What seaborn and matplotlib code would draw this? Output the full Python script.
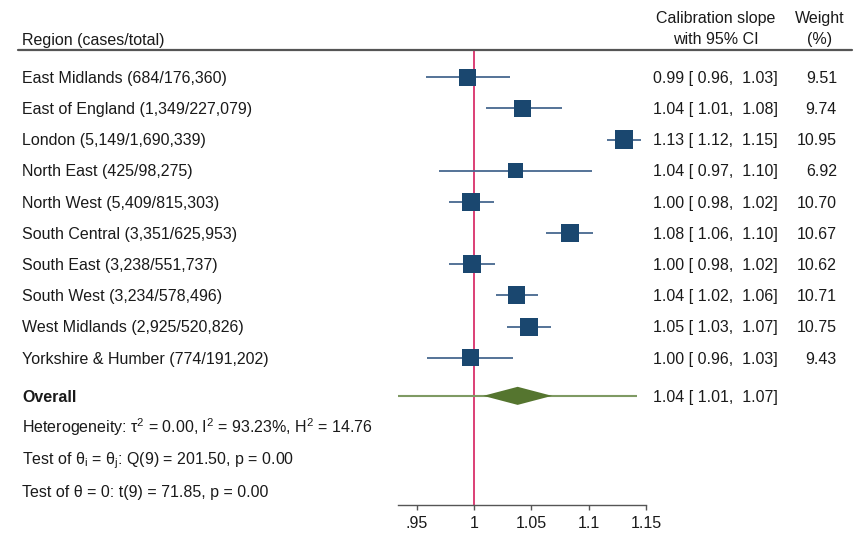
import numpy as np
import pandas as pd
import matplotlib
matplotlib.use("Agg")
import matplotlib.pyplot as plt
import matplotlib.transforms as mtransforms
from matplotlib.lines import Line2D
import seaborn as sns

# ---------------- data ----------------
regions = ["East Midlands (684/176,360)", "East of England (1,349/227,079)",
           "London (5,149/1,690,339)", "North East (425/98,275)",
           "North West (5,409/815,303)", "South Central (3,351/625,953)",
           "South East (3,238/551,737)", "South West (3,234/578,496)",
           "West Midlands (2,925/520,826)", "Yorkshire & Humber (774/191,202)"]
estimate = [0.994, 1.042, 1.131, 1.036, 0.997, 1.084, 0.998, 1.037, 1.048, 0.997]
ci_low = [0.958, 1.010, 1.116, 0.969, 0.978, 1.063, 0.978, 1.019, 1.029, 0.959]
ci_high = [1.031, 1.077, 1.146, 1.103, 1.017, 1.104, 1.018, 1.056, 1.067, 1.034]
weights = [9.51, 9.74, 10.95, 6.92, 10.70, 10.67, 10.62, 10.71, 10.75, 9.43]
est_labels = ["0.99 [ 0.96,  1.03]", "1.04 [ 1.01,  1.08]", "1.13 [ 1.12,  1.15]",
              "1.04 [ 0.97,  1.10]", "1.00 [ 0.98,  1.02]", "1.08 [ 1.06,  1.10]",
              "1.00 [ 0.98,  1.02]", "1.04 [ 1.02,  1.06]", "1.05 [ 1.03,  1.07]",
              "1.00 [ 0.96,  1.03]"]
weight_labels = ["9.51", "9.74", "10.95", "6.92", "10.70", "10.67", "10.62",
                 "10.71", "10.75", "9.43"]
overall_est = 1.038
overall_ci = [1.008, 1.068]
overall_pi = [0.934, 1.142]
overall_label = "1.04 [ 1.01,  1.07]"
stat_lines = [r"Heterogeneity: τ$^{\mathregular{2}}$ = 0.00, I$^{\mathregular{2}}$ = 93.23%, H$^{\mathregular{2}}$ = 14.76",
              r"Test of θ$_{\mathregular{i}}$ = θ$_{\mathregular{j}}$: Q(9) = 201.50, p = 0.00",
              r"Test of θ = 0: t(9) = 71.85, p = 0.00"]
xticks = [0.95, 1.0, 1.05, 1.10, 1.15]
xtick_labels = [".95", "1", "1.05", "1.1", "1.15"]

# ---------------- style ----------------
sns.set_theme(style="white")
plt.rcParams["font.family"] = ["Liberation Sans", "DejaVu Sans"]
plt.rcParams["mathtext.fontset"] = "custom"
plt.rcParams["mathtext.rm"] = "Liberation Sans"
plt.rcParams["mathtext.it"] = "Liberation Sans"

NAVY = "#1a476f"
CI_COL = "#46688f"
GREEN = "#55752f"
PI_COL = "#7f9a63"
RED = "#d9306a"
TXT = "#1a1a1a"
FS = 11.55

W, H = 856, 533
fig = plt.figure(figsize=(W / 100, H / 100), dpi=100)

# main plotting axes (pixel layout)
ax_left, ax_right = 398, 646
ax_top, ax_bot = 50, 505
ax = fig.add_axes([ax_left / W, 1 - ax_bot / H, (ax_right - ax_left) / W, (ax_bot - ax_top) / H])

rows = np.arange(len(regions), dtype=float)
overall_y = 10.22
stat_y = [11.22, 12.24, 13.27]

df = pd.DataFrame({"region": regions, "est": estimate, "lo": ci_low, "hi": ci_high,
                   "w": weights, "row": rows})

# no-effect line
ax.axvline(1.0, color=RED, lw=1.3, zorder=1)

# CI lines
ax.hlines(df["row"], df["lo"], df["hi"], color=CI_COL, lw=1.3, zorder=2)

# markers, area proportional to weight
sns.scatterplot(data=df, x="est", y="row", size="w",
                sizes={w: 15.5 * w for w in weights}, marker="s",
                color=NAVY, linewidth=0, legend=False, ax=ax, zorder=3)

# overall: prediction interval + diamond
ax.hlines(overall_y, overall_pi[0], overall_pi[1], color=PI_COL, lw=1.5, zorder=2)
dh = 0.29
ax.fill([overall_ci[0], overall_est, overall_ci[1], overall_est],
        [overall_y, overall_y - dh, overall_y, overall_y + dh],
        color=GREEN, lw=0, zorder=3)

ax.set_xlim(0.9336, 1.15)
ax.set_ylim(13.72, -0.87)
ax.set_xticks(xticks)
ax.set_xticklabels(xtick_labels, fontsize=FS, color=TXT)
ax.set_yticks([])
ax.set_xlabel("")
ax.set_ylabel("")
for s in ["top", "left", "right"]:
    ax.spines[s].set_visible(False)
ax.spines["bottom"].set_color("#555555")
ax.spines["bottom"].set_linewidth(1.0)
ax.tick_params(axis="x", bottom=True, direction="out", length=3.6, width=1.0,
               color="#555555", pad=4)
ax.patch.set_alpha(0)

# text columns: baseline placed a fixed offset below the row centre
tr = mtransforms.blended_transform_factory(fig.transFigure, ax.transData) + \
    mtransforms.ScaledTranslation(0, -0.057, fig.dpi_scale_trans)
kw = dict(transform=tr, va="baseline", fontsize=FS, color=TXT)
for i, r in enumerate(regions):
    fig.text(22 / W, rows[i], r, ha="left", **kw)
    fig.text(653 / W, rows[i], est_labels[i], ha="left", **kw)
    fig.text(837 / W, rows[i], weight_labels[i], ha="right", **kw)

fig.text(22 / W, overall_y, "Overall", ha="left", fontweight="bold", **kw)
fig.text(653 / W, overall_y, overall_label, ha="left", **kw)
for yv, s in zip(stat_y, stat_lines):
    fig.text(22 / W, yv, s, ha="left", **kw)

# header
hb = 5.7
fig.text(22 / W, 1 - (39 + hb) / H, "Region (cases/total)", ha="left", va="baseline", fontsize=FS, color=TXT)
fig.text(716 / W, 1 - (17 + hb) / H, "Calibration slope", ha="center", va="baseline", fontsize=FS, color=TXT)
fig.text(716 / W, 1 - (38 + hb) / H, "with 95% CI", ha="center", va="baseline", fontsize=FS, color=TXT)
fig.text(820 / W, 1 - (17 + hb) / H, "Weight", ha="center", va="baseline", fontsize=FS, color=TXT)
fig.text(820 / W, 1 - (38 + hb) / H, "(%)", ha="center", va="baseline", fontsize=FS, color=TXT)
fig.add_artist(Line2D([18 / W, 852 / W], [1 - 49.5 / H, 1 - 49.5 / H],
                      transform=fig.transFigure, color="#555555", lw=1.6))

fig.savefig("out.png", dpi=100, facecolor="white")
